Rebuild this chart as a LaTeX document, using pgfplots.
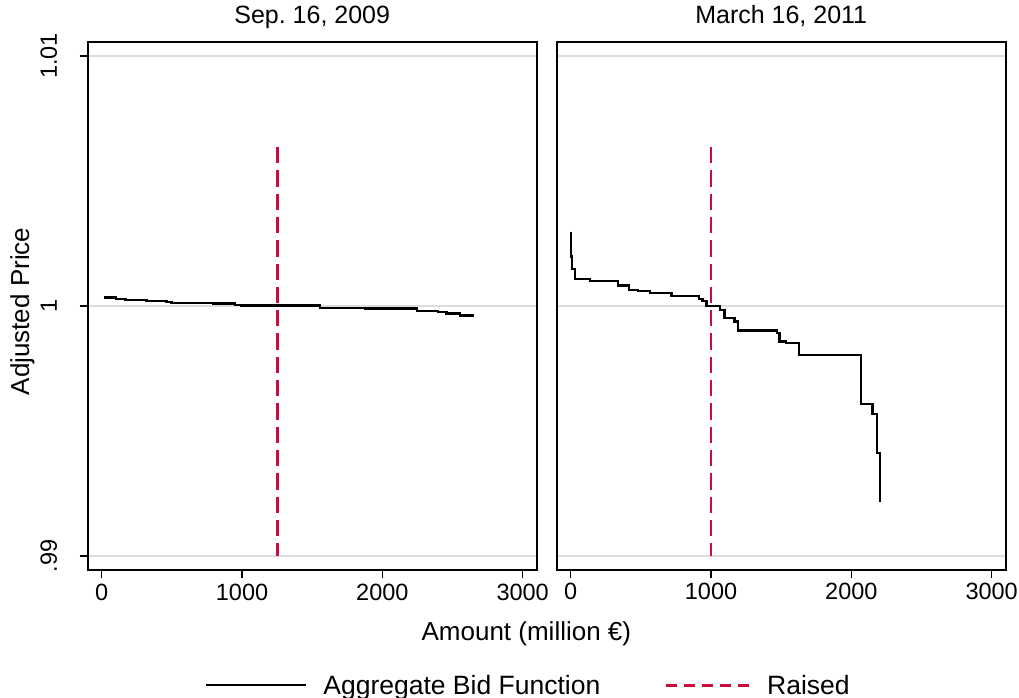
\documentclass[border=0pt]{standalone}
\usepackage{fontspec}
\setmainfont{Liberation Sans}
\usepackage{pgfplots}
\pgfplotsset{compat=1.18}
\frenchspacing

\definecolor{gridgray}{RGB}{221,221,221}
\definecolor{raisedred}{RGB}{204,12,60}

\begin{document}
\begin{tikzpicture}[x=1pt,y=1pt]
\useasboundingbox (0,0) rectangle (1019,698);
\pgfplotsset{
  panel/.style={
    scale only axis, width=449pt, height=527.7pt,
    xmin=-100, xmax=3100, ymin=0.98944, ymax=1.01054,
    xtick={0,1000,2000,3000},
    xticklabels={0,1000,2000,3000},
    ytick={0.99,1,1.01},
    tick align=outside, xtick pos=bottom, ytick pos=left,
    major tick length=8pt,
    every tick/.style={black, line width=1.5pt},
    axis line style={black, line width=2pt},
    ymajorgrids, major grid style={gridgray, line width=1.6pt},
    /pgf/number format/assume math mode=true,
    ticklabel style={font=\fontsize{23.5}{28}\selectfont},
    xticklabel style={anchor=base, yshift=-22pt},
    title style={at={(0.5,1)}, anchor=base, yshift=12.3pt,
      font=\fontsize{25}{30}\selectfont},
    bid/.style={black, line width=2.4pt, const plot},
    raised/.style={raisedred, line width=2.8pt, dash pattern=on 16.3pt off 7pt},
  },
}

% Sep. 16, 2009 auction
\begin{axis}[panel, at={(87.7pt,128pt)}, anchor=south west,
  title={Sep.\ 16, 2009},
  yticklabels={.99,1,1.01},
  yticklabel style={xshift=-22.7pt, rotate=90, anchor=base},
  ylabel={Adjusted Price},
  ylabel style={at={(axis description cs:-0.1307,0.4899)}, anchor=base,
    font=\fontsize{26}{30}\selectfont},
  xlabel={Amount (million €)},
  xlabel style={at={(axis description cs:0.977,-0.1345)}, anchor=base,
    font=\fontsize{26}{30}\selectfont},
  legend columns=2,
  legend cell align=left,
  legend style={at={(axis description cs:0.2612,-0.2184)}, anchor=west,
    draw=none, fill=none, inner sep=0pt, outer sep=0pt,
    column sep=0pt, nodes={inner sep=0pt},
    font=\fontsize{26.5}{30}\selectfont,
    /tikz/every odd column/.append style={column sep=16pt},
    /tikz/every even column/.append style={column sep=64pt}},
]
\addplot[bid, legend image code/.code={\draw[black, line width=2.4pt] (0pt,0pt) -- (100pt,0pt);}]
  coordinates {
  (14,1.00033) (100,1.00027) (169,1.00023) (319,1.00020) (463,1.00016)
  (496,1.00011) (791,1.00009) (948,1.00004) (995,1.00001) (1554,0.99992)
  (1875,0.99989) (2245,0.99980) (2395,0.99975) (2457,0.99969) (2552,0.99961)
  (2651,0.99961)
};
\addlegendentry{Aggregate Bid Function}
\addplot[raised, legend image code/.code={\draw[raisedred, line width=2.8pt, dash pattern=on 11.5pt off 6.5pt] (0pt,0pt) -- (84pt,0pt);}]
  coordinates {(1250,1.00635) (1250,0.99)};
\addlegendentry{Raised}
\end{axis}

% March 16, 2011 auction
\begin{axis}[panel, at={(556.7pt,128pt)}, anchor=south west,
  title={March 16, 2011},
  yticklabels={},
  ytick style={draw=none},
]
\addplot[bid] coordinates {
  (2,1.00297) (2,1.00197) (9,1.00148) (31,1.00108) (137,1.00100)
  (338,1.00081) (417,1.00064) (481,1.00060) (564,1.00051) (718,1.00040)
  (914,1.00028) (938,1.00020) (967,1.00000) (1062,0.99984) (1097,0.99951)
  (1168,0.99937) (1191,0.99901) (1471,0.99891) (1488,0.99857) (1535,0.99851)
  (1625,0.99804) (2068,0.99608) (2151,0.99568) (2182,0.99411) (2203,0.99215)
};
\addplot[raised] coordinates {(1000,1.00635) (1000,0.99)};
\end{axis}
\end{tikzpicture}
\end{document}
